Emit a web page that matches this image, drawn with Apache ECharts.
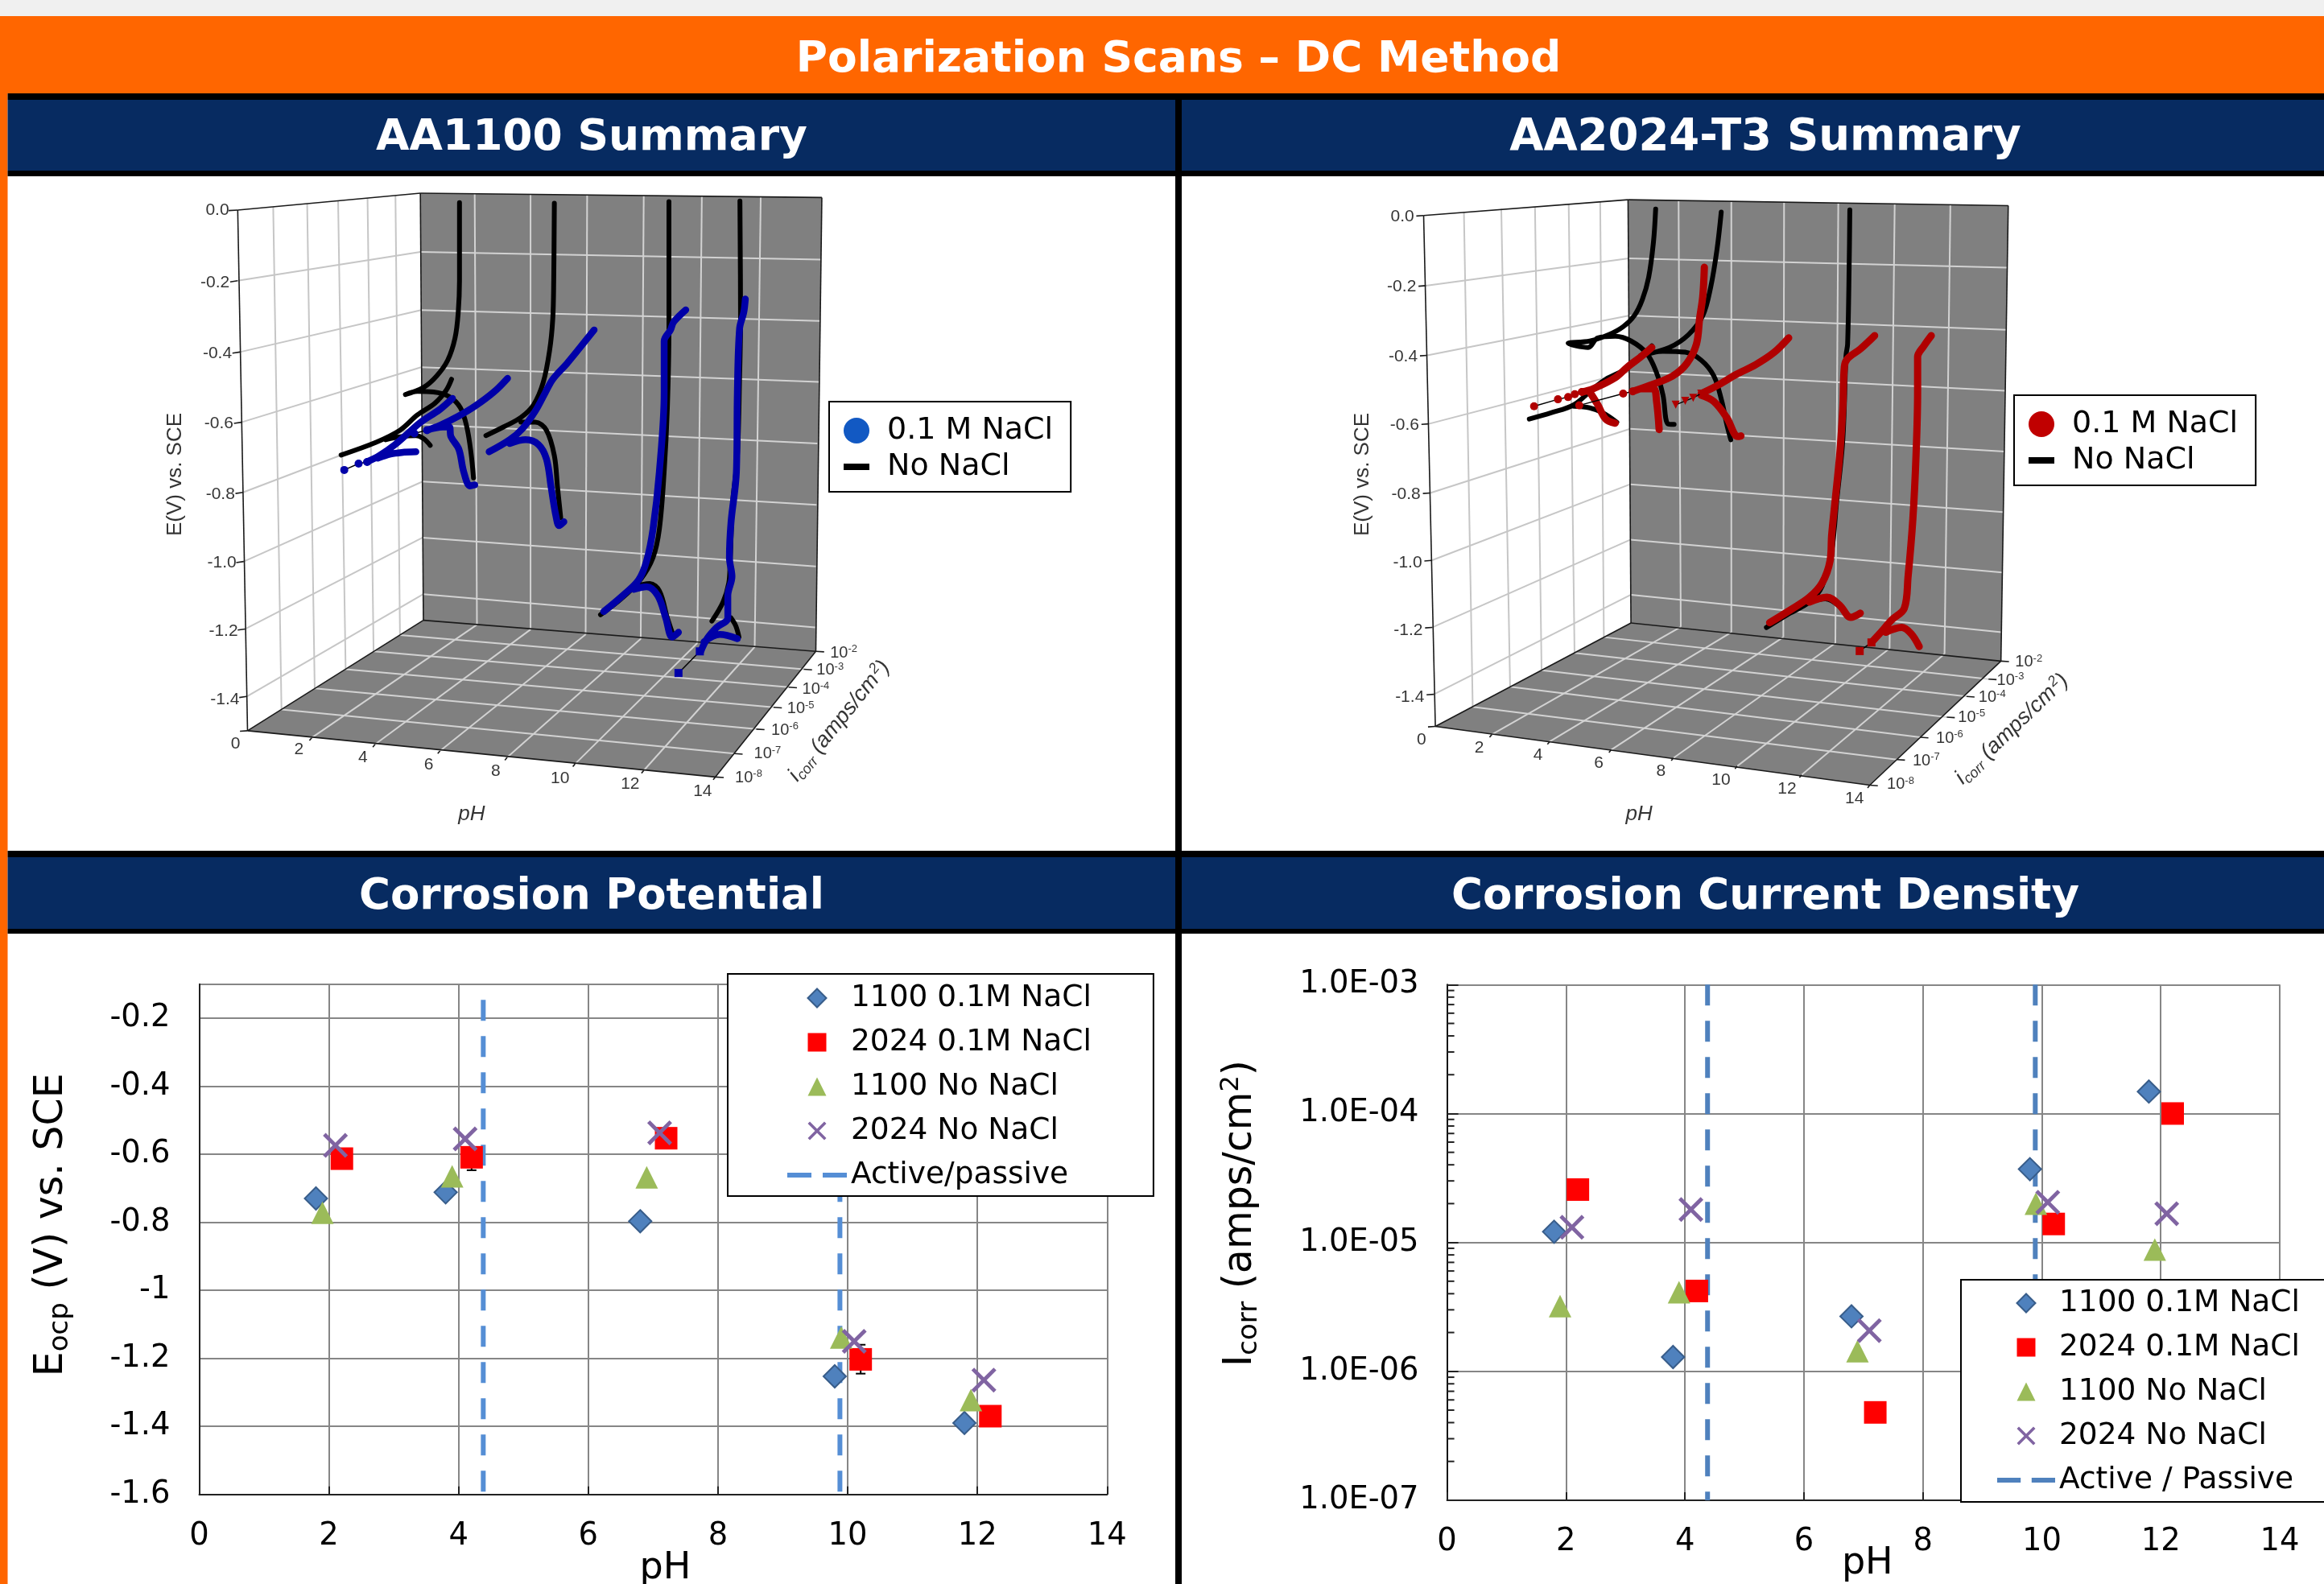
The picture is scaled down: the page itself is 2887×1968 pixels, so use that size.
<!DOCTYPE html>
<html><head><meta charset="utf-8">
<style>html,body{margin:0;padding:0;background:#fff}#c{width:2887px;height:1968px}</style>
<script src="https://cdn.jsdelivr.net/npm/echarts@6/dist/echarts.min.js"></script>
</head><body><div id="c"></div>
<script>
/* ---------- Corrosion potential / current (pH, value) ---------- */
const pH1100Nacl=[1.8,3.8,6.8,9.8,11.8];
const pH2024Nacl=[2.2,4.2,7.2,10.2,12.2];
const pH1100None=[1.9,3.9,6.9,9.9,11.9];
const pH2024None=[2.1,4.1,7.1,10.1,12.1];
const eocp1100Nacl=[-0.73,-0.712,-0.797,-1.253,-1.39];
const eocp2024Nacl=[-0.613,-0.609,-0.553,-1.203,-1.37];
const eocp1100None=[-0.772,-0.665,-0.668,-1.139,-1.323];
const eocp2024None=[-0.574,-0.555,-0.537,-1.15,-1.264];
const eocpErrorBars=[[4.2,-0.647,-0.58],[10.2,-1.245,-1.16]];
const activeEocp=[[[4.38,-0.146],[4.38,-1.6]],[[9.88,-0.146],[9.88,-1.6]]];
const icorr1100Nacl=[1.21e-5,1.29e-6,2.67e-6,3.7e-5,1.48e-4];
const icorr2024Nacl=[2.57e-5,4.2e-6,4.8e-7,1.39e-5,1.0e-4];
const icorr1100None=[3.2e-6,4.1e-6,1.43e-6,2.0e-5,8.8e-6];
const icorr2024None=[1.31e-5,1.8e-5,2.07e-6,2.05e-5,1.67e-5];
const activeIcorr=[[[4.38,1e-3],[4.38,1e-7]],[[9.89,1e-3],[9.89,1e-7]]];
const icorrTickLabels={'-7':'1.0E-07','-6':'1.0E-06','-5':'1.0E-05','-4':'1.0E-04','-3':'1.0E-03'};
const icorrMinorTicks=[2e-7,3e-7,4e-7,5e-7,6e-7,7e-7,8e-7,9e-7,2e-6,3e-6,4e-6,5e-6,6e-6,7e-6,8e-6,9e-6,2e-5,3e-5,4e-5,5e-5,6e-5,7e-5,8e-5,9e-5,2e-4,3e-4,4e-4,5e-4,6e-4,7e-4,8e-4,9e-4];

/* ---------- 3D summary scans (view units, 0-1568) ---------- */
const aa1100NoNacl=[
 [[432,55],[432,300],[428,400],[418,480],[395,550],[360,600],[320,635],[262,658],[300,648],[350,650],[400,665],[435,700],[455,760],[468,840],[476,920]],
 [[407,610],[390,645],[355,685],[300,722],[245,770],[170,808],[60,848]],
 [[200,800],[250,790],[295,787],[320,797],[340,818]],
 [[730,57],[728,300],[725,420],[715,520],[695,620],[665,690],[625,730],[570,760],[515,787]],
 [[625,745],[670,745],[705,770],[730,850],[740,950],[750,1045]],
 [[1090,52],[1090,450],[1085,700],[1075,900],[1060,1080],[1040,1170],[1000,1240],[940,1300],[875,1350]],
 [[975,1265],[1030,1252],[1060,1275],[1085,1360],[1105,1420]],
 [[1313,50],[1315,430],[1312,600],[1305,850],[1290,1000],[1282,1190],[1278,1250],[1260,1310],[1225,1370]],
 [[1285,1360],[1300,1385],[1310,1420]]
];
const aa1100Nacl=[
 [[583,607],[540,650],[480,695],[430,725],[370,755],[330,770],[380,760],[400,760],[405,790],[430,830],[445,900],[465,945],[480,942]],
 [[410,670],[370,705],[310,745],[270,780],[230,815],[180,850],[140,870]],
 [[295,838],[250,840],[215,845],[175,858]],
 [[855,455],[815,505],[770,560],[725,610],[700,655],[670,710],[630,765],[590,800],[525,838]],
 [[590,812],[640,800],[680,815],[705,860],[720,950],[735,1040],[745,1070],[760,1058]],
 [[1143,392],[1105,430],[1095,455],[1075,490],[1075,650],[1060,900],[1040,1080],[1020,1180],[995,1240],[950,1285],[885,1340]],
 [[980,1270],[1020,1262],[1055,1290],[1080,1360],[1100,1420],[1120,1405]],
 [[1330,358],[1325,400],[1312,450],[1305,650],[1302,900],[1285,1060],[1280,1170],[1288,1230],[1275,1290],[1275,1360],[1240,1390],[1210,1425],[1190,1465]],
 [[1200,1435],[1250,1412],[1305,1425]]
];
const aa1100NaclDots=[[[142,870],[115,875],[70,895]],[[330,770],[290,780]]];
const aa1100NaclSquares=[[[1187,1465],[1120,1533]]];
const aa2024NoNacl=[
 [[447,75],[440,180],[425,290],[405,360],[380,410],[345,445],[300,470],[240,490],[172,497],[235,510],[265,480],[320,475],[370,490],[420,530],[450,590],[470,660],[485,750],[505,752]],
 [[653,85],[640,200],[620,320],[595,410],[550,470],[490,510],[400,535],[470,522],[540,525],[590,550],[630,600],[655,680],[670,750],[683,800]],
 [[435,505],[400,540],[350,580],[290,610],[250,640],[190,690],[120,715],[50,735]],
 [[190,695],[240,700],[280,715],[325,745]],
 [[1057,78],[1055,250],[1050,500],[1045,535],[1035,800],[1015,1000],[1000,1150],[970,1260],[930,1310],[860,1350],[795,1390]],
 [[930,1310],[980,1300],[1020,1320],[1055,1360]]
];
const aa2024Nacl=[
 [[435,510],[400,540],[360,570],[320,605],[250,640],[215,650]],
 [[240,650],[265,690],[290,735],[320,748]],
 [[600,258],[595,350],[585,420],[575,500],[545,560],[500,600],[440,625],[375,648]],
 [[400,640],[440,640],[450,680],[458,768]],
 [[865,480],[820,525],[760,565],[700,595],[640,630],[590,655]],
 [[590,660],[630,680],[670,730],[705,790],[715,788]],
 [[1135,473],[1090,515],[1050,545],[1040,570],[1035,700],[1025,850],[1010,1000],[1000,1100],[995,1180],[970,1250],[930,1295],[870,1335],[805,1375]],
 [[930,1310],[985,1295],[1025,1320],[1060,1358],[1090,1345]],
 [[1313,473],[1290,505],[1270,540],[1270,650],[1265,850],[1255,1050],[1240,1230],[1228,1330],[1190,1365],[1150,1410],[1125,1437]],
 [[1170,1405],[1220,1390],[1250,1410],[1275,1450]]
];
const aa2024NaclDots=[[[215,650],[193,657],[172,666],[140,673],[65,695]],[[375,648],[345,655],[207,692]]];
const aa2024NaclTriangles=[[[590,655],[565,668],[540,678],[510,690]]];
const aa2024NaclSquares=[[[1125,1437],[1088,1464]]];

/* ---------- 3D box outlines (view units) ---------- */
const frameL={
 back:[557,355,1089,363,1081,1197,561,1140],
 floor:[328,1343,948,1428,1081,1197,561,1140],
 side:[315,386,557,355,561,1140,328,1343],
 grid:[[315,516,557,463],[318,647,558,570],[320,776,558,675],[322,905,559,780],[323,1032,560,885],[325,1156,560,988],[327,1280,561,1092],
  [557,463,1087,477],[558,570,1086,590],[558,675,1085,702],[559,780,1083,815],[560,885,1082,928],[560,988,1081,1041],[561,1092,1080,1153],
  [629,356,632,1148],[703,357,703,1157],[778,358,776,1166],[853,359,849,1174],[930,360,924,1182],[1008,362,1000,1189],
  [362,380,373,1304],[407,374,417,1265],[448,369,458,1230],[487,364,495,1197],[524,359,530,1167],
  [373,1304,973,1385],[417,1265,1002,1340],[458,1230,1025,1300],[495,1197,1045,1263],[530,1167,1065,1230],
  [413,1356,632,1148],[497,1368,703,1157],[583,1380,776,1166],[672,1392,849,1174],[762,1404,924,1182],[853,1416,1000,1189]],
 edge:[[315,386,557,355],[315,386,328,1343],[328,1343,948,1428],[948,1428,1081,1197],[328,1343,561,1140],[561,1140,1081,1197],[557,355,1089,363],[1089,363,1081,1197],[557,355,561,1140],
  [303,387,315,386],[305,518,315,516],[308,649,318,647],[310,778,320,776],[312,907,322,905],[313,1034,323,1032],[315,1158,325,1156],[317,1282,327,1280],[318,1344,328,1343],
  [413,1356,410,1361],[497,1368,494,1373],[583,1380,580,1385],[672,1392,669,1397],[762,1404,759,1409],[853,1416,850,1421],[948,1428,945,1433],
  [1081,1197,1092,1198],[1065,1230,1076,1231],[1045,1263,1056,1264],[1025,1300,1036,1301],[1002,1340,1013,1341],[973,1385,984,1386],[948,1428,959,1429]],
 eLabels:[[288,387,'0.0'],[285,520,'-0.2'],[288,650,'-0.4'],[290,778,'-0.6'],[292,908,'-0.8'],[294,1035,'-1.0'],[296,1160,'-1.2'],[298,1286,'-1.4']],
 pLabels:[[312,1367,'0'],[396,1378,'2'],[481,1392,'4'],[568,1405,'6'],[657,1417,'8'],[742,1430,'10'],[835,1441,'12'],[931,1454,'14']],
 iLabels:[[1118,1200,'-2'],[1100,1232,'-3'],[1081,1267,'-4'],[1061,1303,'-5'],[1040,1342,'-6'],[1017,1386,'-7'],[992,1429,'-8']],
 eTitle:[232,872],pTitle:[625,1497],iTitle:[1112,1325],iRot:51
};
const frameR={
 back:[618,367,1137,378,1127,1215,622,1145],
 floor:[355,1335,948,1443,1127,1215,622,1145],
 side:[339,396,618,367,622,1145,355,1335],
 grid:[[342,525,619,475],[344,653,620,580],[346,779,620,683],[348,906,621,788],[350,1030,621,890],[351,1153,621,992],[353,1276,622,1093],
  [619,475,1135,492],[620,580,1134,606],[620,683,1133,718],[621,788,1132,830],[621,890,1130,941],[621,992,1129,1052],[622,1093,1128,1162],
  [687,369,690,1152],[759,370,759,1162],[831,372,830,1171],[905,373,901,1182],[982,375,975,1192],[1058,377,1050,1202],
  [394,390,406,1299],[445,384,457,1262],[491,380,500,1232],[537,375,545,1200],[580,370,585,1171],
  [406,1299,985,1396],[457,1262,1017,1355],[500,1232,1053,1318],[545,1200,1080,1280],[585,1171,1110,1248],
  [432,1350,690,1152],[511,1363,759,1162],[595,1378,830,1171],[680,1393,901,1182],[767,1408,975,1192],[855,1424,1050,1202]],
 edge:[[339,396,618,367],[339,396,355,1335],[355,1335,948,1443],[948,1443,1127,1215],[355,1335,622,1145],[622,1145,1127,1215],[618,367,1137,378],[1137,378,1127,1215],[618,367,622,1145],
  [329,397,339,396],[332,526,342,525],[334,654,344,653],[336,780,346,779],[338,907,348,906],[340,1031,350,1030],[341,1154,351,1153],[343,1277,353,1276],[345,1336,355,1335],
  [432,1350,429,1355],[511,1363,508,1368],[595,1378,592,1383],[680,1393,677,1398],[767,1408,764,1413],[855,1424,852,1429],[948,1443,945,1448],
  [1127,1215,1138,1216],[1110,1248,1121,1249],[1080,1280,1091,1281],[1053,1318,1064,1319],[1017,1355,1028,1356],[985,1396,996,1397],[948,1443,959,1444]],
 eLabels:[[310,398,'0.0'],[309,527,'-0.2'],[311,656,'-0.4'],[313,782,'-0.6'],[315,908,'-0.8'],[317,1034,'-1.0'],[318,1158,'-1.2'],[320,1281,'-1.4']],
 pLabels:[[336,1360,'0'],[415,1375,'2'],[495,1388,'4'],[578,1403,'6'],[663,1418,'8'],[745,1434,'10'],[835,1450,'12'],[927,1467,'14']],
 iLabels:[[1165,1217,'-2'],[1140,1250,'-3'],[1115,1282,'-4'],[1087,1318,'-5'],[1057,1357,'-6'],[1025,1398,'-7'],[990,1442,'-8']],
 eTitle:[256,872],pTitle:[633,1497],iTitle:[1142,1340],iRot:44
};

/* ---------- helpers ---------- */
const SANS='"DejaVu Sans"', ARIAL='"Liberation Sans"';
const X_PATH='path://M11 0L50 39L89 0L100 11L61 50L100 89L89 100L50 61L11 100L0 89L39 50L0 11Z';
const DIAMOND_PATH='path://M50 0L100 50L50 100L0 50Z';
const RECT_PATH='path://M0 0H100V100H0Z';
const TRI_PATH='path://M50 0L100 100H0Z';
const DASH_PATH='path://M0 0H32V8H0Z';
const TWO_DASH_PATH='path://M0 0H30V6H0ZM44 0H74V6H44Z';
const zip=(a,b)=>a.map((v,i)=>[v,b[i]]);
const flat=curves=>{const o=[];curves.forEach((c,i)=>{if(i)o.push(['-','-']);c.forEach(p=>o.push(p));});return o;};
const rect=(x,y,w,h,fill)=>({type:'rect',silent:true,z:-5,shape:{x,y,width:w,height:h},style:{fill}});
const title=(t,x,y,s)=>({type:'text',silent:true,z:-4,x,y,style:{text:t,fill:'#fff',font:`bold ${s}px ${SANS}`,align:'center',verticalAlign:'middle'}});

const hiddenAxis=(gi,min,max,inv)=>({type:'value',gridIndex:gi,min,max,inverse:!!inv,show:false,splitLine:{show:false}});
const grid=[
 {left:0,top:0,width:1470,height:1060},
 {left:400,top:230,width:620,height:620},
 {left:1460,top:0,width:1427,height:1060},
 {left:1880,top:230,width:620,height:620},
 {left:247.5,top:1222.7,width:1127.8,height:634},
 {left:1797.6,top:1223.3,width:1034.4,height:640.6}
].map(g=>({...g,outerBoundsMode:'none',containLabel:false}));
const xAxis=[0,1,2,3].map(g=>hiddenAxis(g,0,1568));
const yAxis=[0,1,2,3].map(g=>hiddenAxis(g,0,1568,true));
const tickFont={color:'#000',fontFamily:SANS,fontSize:38.5};
const xBase=(g,gap)=>({type:'value',gridIndex:g,min:0,max:14,interval:2,
 axisLine:{show:true,onZero:false,lineStyle:{color:'#222',width:2}},
 axisTick:{show:true,inside:true,length:10,lineStyle:{color:'#222',width:2}},
 axisLabel:{...tickFont,margin:33},
 splitLine:{show:true,lineStyle:{color:'#868686',width:2}},
 name:'pH',nameLocation:'middle',nameGap:gap,nameMoveOverlap:false,
 nameTextStyle:{color:'#000',fontFamily:SANS,fontSize:46,padding:[0,0,0,g===4?30:10]}});
xAxis.push(xBase(4,69),xBase(5,56));
const nameRich={a:{fontFamily:SANS,fontSize:49,color:'#000'},b:{fontFamily:SANS,fontSize:34,color:'#000',verticalAlign:'bottom',padding:[22,0,0,0]},c:{fontFamily:SANS,fontSize:32,color:'#000',verticalAlign:'top',padding:[0,0,18,0]}};
yAxis.push({type:'value',gridIndex:4,min:-1.6,max:-0.1,interval:0.2,
 axisLine:{show:true,onZero:false,lineStyle:{color:'#222',width:2}},axisTick:{show:false},
 axisLabel:{...tickFont,margin:36,showMaxLabel:false,formatter:v=>String(Math.round(v*10)/10)},
 splitLine:{show:true,lineStyle:{color:'#868686',width:2}},
 name:'{a|E}{b|ocp}{a| (V) vs. SCE}',nameLocation:'middle',nameGap:155,nameRotate:90,nameMoveOverlap:false,nameTextStyle:{rich:nameRich,padding:[0,0,0,36]}});
yAxis.push({type:'log',logBase:10,gridIndex:5,min:1e-7,max:1e-3,
 axisLine:{show:true,onZero:false,lineStyle:{color:'#111',width:2}},
 axisTick:{show:true,inside:true,length:14,lineStyle:{color:'#222',width:2}},
 axisLabel:{...tickFont,margin:35,formatter:v=>icorrTickLabels[Math.round(Math.log10(v))]},
 splitLine:{show:true,lineStyle:{color:'#868686',width:2}},minorTick:{show:false},
 name:'{a|I}{b|corr}{a| (amps/cm}{c|2}{a|)}',nameLocation:'middle',nameGap:228,nameRotate:90,nameMoveOverlap:false,nameTextStyle:{rich:nameRich,padding:[0,0,0,72]}});

/* ---------- series builders ---------- */
const polygon=(gi,pts,fill,z)=>({type:'custom',coordinateSystem:'cartesian2d',xAxisIndex:gi,yAxisIndex:gi,silent:true,z,data:[pts],
 renderItem:(p,api)=>{const o=[];for(let i=0;i<8;i+=2)o.push(api.coord([api.value(i),api.value(i+1)]));
  return {type:'polygon',shape:{points:o},style:{fill}};}});
const segments=(gi,segs,color,width,z)=>({type:'custom',coordinateSystem:'cartesian2d',xAxisIndex:gi,yAxisIndex:gi,silent:true,z,data:segs,
 renderItem:(p,api)=>{const a=api.coord([api.value(0),api.value(1)]),b=api.coord([api.value(2),api.value(3)]);
  return {type:'line',shape:{x1:a[0],y1:a[1],x2:b[0],y2:b[1]},style:{stroke:color,lineWidth:width}};}});
const textLabels=(gi,data,font,formatter,rich,rotate)=>({type:'scatter',xAxisIndex:gi,yAxisIndex:gi,silent:true,z:6,symbolSize:0,data,
 label:{show:true,position:'inside',color:'#000',fontFamily:font.family||ARIAL,fontSize:font.size,fontStyle:font.style||'normal',formatter,rich,rotate:rotate||0}});
const supRich={b:{fontFamily:ARIAL,fontSize:20,color:'#000'},s:{fontFamily:ARIAL,fontSize:13,color:'#000',verticalAlign:'top',padding:[0,0,9,0]}};
const iRich={i:{fontFamily:ARIAL,fontSize:27,fontStyle:'italic',color:'#000'},
 sub:{fontFamily:ARIAL,fontSize:18,fontStyle:'italic',color:'#000',verticalAlign:'bottom',padding:[14,0,0,0]},
 sup:{fontFamily:ARIAL,fontSize:18,fontStyle:'italic',color:'#000',verticalAlign:'top',padding:[0,0,14,2]}};
function frameSeries(gi,f){return [
 polygon(gi,f.side,'#ffffff',1),polygon(gi,f.back,'#808080',1),polygon(gi,f.floor,'#808080',1),
 segments(gi,f.grid.filter((s,i)=>i<7||(i>=20&&i<25)),'#c6c6c6',2,2),
 segments(gi,f.grid.filter((s,i)=>!(i<7||(i>=20&&i<25))),'#d2d2d2',2,2),
 segments(gi,f.edge,'#1a1a1a',1.6,3),
 textLabels(gi,f.eLabels,{size:21},p=>p.value[2]),
 textLabels(gi,f.pLabels,{size:21},p=>p.value[2]),
 textLabels(gi,f.iLabels,{size:20},p=>`{b|10}{s|${p.value[2]}}`,supRich),
 textLabels(gi,[f.eTitle],{size:26},()=>'E(V) vs. SCE',null,90),
 textLabels(gi,[f.pTitle],{size:26,style:'italic'},()=>'pH'),
 textLabels(gi,[f.iTitle],{size:27},()=>'{i|i}{sub|corr}{i| (amps/cm}{sup|2}{i|)}',iRich,f.iRot)
];}
const scanLine=(gi,name,color,width,curves,z)=>({type:'line',name,xAxisIndex:gi,yAxisIndex:gi,z,silent:true,showSymbol:false,smooth:0.35,clip:false,
 data:flat(curves),itemStyle:{color},lineStyle:{color,width,cap:'round',join:'round'}});
const tail=(gi,color,curves,symbol,size,rotate)=>({type:'line',xAxisIndex:gi,yAxisIndex:gi,z:5,silent:true,symbol,symbolSize:size,symbolRotate:rotate||0,showSymbol:true,showAllSymbol:true,clip:false,
 data:flat(curves),itemStyle:{color},lineStyle:{color:'#000',width:1.5}});

const markers=(g,name,sym,data,color,extra,size)=>({type:'scatter',name,xAxisIndex:g,yAxisIndex:g,z:5,silent:true,symbol:sym,symbolSize:size||28,symbolKeepAspect:true,data,itemStyle:{color,opacity:1,...(extra||{})}});
const dashed=(g,name,color,data)=>({type:'line',name,xAxisIndex:g,yAxisIndex:g,z:3,silent:true,showSymbol:false,symbol:'none',clip:false,data:flat(data),itemStyle:{color},lineStyle:{color,width:6,type:[26,19]}});
const diamondBorder={borderColor:'#385D8A',borderWidth:2};

const series=[
 ...frameSeries(0,frameL),
 scanLine(1,'No NaCl','#000',6,aa1100NoNacl,4),
 scanLine(1,'0.1 M NaCl','#0000A8',8.5,aa1100Nacl,5),
 tail(1,'#0000A8',aa1100NaclDots,'circle',10),
 tail(1,'#0000A8',aa1100NaclSquares,'rect',10),
 ...frameSeries(2,frameR),
 scanLine(3,'No NaCl','#000',6,aa2024NoNacl,4),
 scanLine(3,'0.1 M NaCl','#B00000',9,aa2024Nacl,5),
 tail(3,'#B00000',aa2024NaclDots,'circle',10),
 tail(3,'#B00000',aa2024NaclTriangles,'triangle',10,180),
 tail(3,'#B00000',aa2024NaclSquares,'rect',10),
 /* corrosion potential */
 dashed(4,'Active/passive','#558ED5',activeEocp),
 {type:'custom',coordinateSystem:'cartesian2d',xAxisIndex:4,yAxisIndex:4,silent:true,z:4,data:eocpErrorBars,
  renderItem:(p,api)=>{const a=api.coord([api.value(0),api.value(1)]),b=api.coord([api.value(0),api.value(2)]);
   const st={stroke:'#000',lineWidth:2};
   return {type:'group',children:[
    {type:'line',shape:{x1:a[0],y1:a[1],x2:b[0],y2:b[1]},style:st},
    {type:'line',shape:{x1:a[0]-6,y1:a[1],x2:a[0]+6,y2:a[1]},style:st},
    {type:'line',shape:{x1:b[0]-6,y1:b[1],x2:b[0]+6,y2:b[1]},style:st}]};}},
 markers(4,'1100 0.1M NaCl',DIAMOND_PATH,zip(pH1100Nacl,eocp1100Nacl),'#4F81BD',diamondBorder),
 markers(4,'2024 0.1M NaCl',RECT_PATH,zip(pH2024Nacl,eocp2024Nacl),'#FF0000'),
 markers(4,'1100 No NaCl',TRI_PATH,zip(pH1100None,eocp1100None),'#9BBB59'),
 markers(4,'2024 No NaCl',X_PATH,zip(pH2024None,eocp2024None),'#8064A2',null,31),
 /* corrosion current */
 dashed(5,'Active / Passive','#4F81BD',activeIcorr),
 {type:'custom',coordinateSystem:'cartesian2d',xAxisIndex:5,yAxisIndex:5,silent:true,z:2,data:icorrMinorTicks.map(v=>[0,v]),
  renderItem:(p,api)=>{const a=api.coord([api.value(0),api.value(1)]);
   return {type:'line',shape:{x1:a[0],y1:a[1],x2:a[0]+9,y2:a[1]},style:{stroke:'#222',lineWidth:2}};}},
 markers(5,'1100 0.1M NaCl',DIAMOND_PATH,zip(pH1100Nacl,icorr1100Nacl),'#4F81BD',diamondBorder),
 markers(5,'2024 0.1M NaCl',RECT_PATH,zip(pH2024Nacl,icorr2024Nacl),'#FF0000'),
 markers(5,'1100 No NaCl',TRI_PATH,zip(pH1100None,icorr1100None),'#9BBB59'),
 markers(5,'2024 No NaCl',X_PATH,zip(pH2024None,icorr2024None),'#8064A2',null,31)
];

/* ---------- legends ---------- */
const legBase={orient:'vertical',backgroundColor:'#fff',borderColor:'#000',borderWidth:2,selectedMode:false,z:8,
 textStyle:{fontFamily:SANS,fontSize:37.5,lineHeight:37,color:'#000'}};
const scanLegend=(left,top,color)=>({...legBase,left,top,padding:[17,22,12,18],itemWidth:32,itemHeight:32,itemGap:7,
 textStyle:{...legBase.textStyle,fontSize:38,padding:[0,0,0,17]},
 data:[{name:'0.1 M NaCl',icon:'circle',itemStyle:{color}},{name:'No NaCl',icon:DASH_PATH,itemStyle:{color:'#000'}}]});
const markerLegend=(left,top,pad,w,lastName,lastColor)=>({...legBase,left,top,padding:pad,itemWidth:w,itemHeight:23,itemGap:17,
 data:[{name:'1100 0.1M NaCl',icon:DIAMOND_PATH},{name:'2024 0.1M NaCl',icon:RECT_PATH},{name:'1100 No NaCl',icon:TRI_PATH},{name:'2024 No NaCl',icon:X_PATH},{name:lastName,icon:TWO_DASH_PATH,itemStyle:{color:lastColor}}]});
const legend=[
 scanLegend(1030,499,'#1259C3'),
 scanLegend(2502,491,'#C00000'),
 markerLegend(904,1210,[11,77,7,74],74,'Active/passive','#558ED5'),
 markerLegend(2436,1590,[10,100,8,45],72,'Active / Passive','#4F81BD')
];

const graphic=[
 rect(0,0,2887,20,'#f0f0f0'),
 rect(2,20,2885,96,'#FF6600'),
 rect(0,20,9.5,1948,'#FF6600'),
 rect(9.5,116,2878,8,'#000'),
 rect(9.5,124,2878,88,'#072B61'),
 rect(9.5,212,2878,7,'#000'),
 rect(9.5,1057,2878,8,'#000'),
 rect(9.5,1065,2878,89,'#072B61'),
 rect(9.5,1154,2878,6,'#000'),
 rect(1460,116,8,1852,'#000'),
 title('Polarization Scans – DC Method',1464,75,53.5),
 title('AA1100 Summary',735,172,53.5),
 title('AA2024-T3 Summary',2193,172,54.5),
 title('Corrosion Potential',735,1115,53),
 title('Corrosion Current Density',2193,1115,53)
];

const chart=echarts.init(document.getElementById('c'),null,{renderer:'canvas',width:2887,height:1968});
chart.setOption({animation:false,backgroundColor:'#fff',tooltip:{show:false},grid,xAxis,yAxis,series,legend,graphic});
</script></body></html>
